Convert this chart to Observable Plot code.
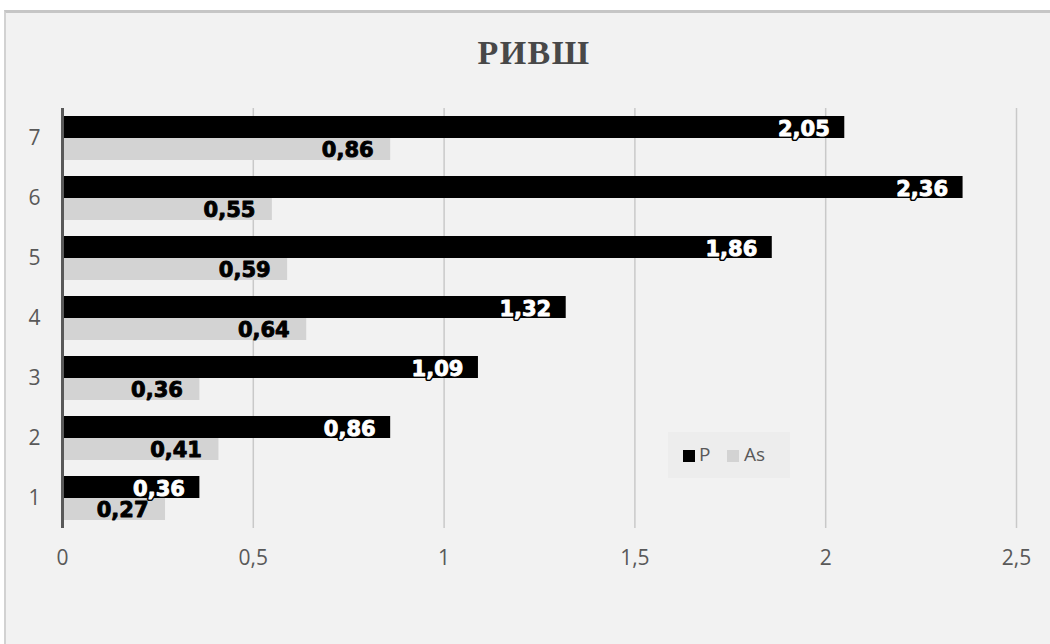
<!DOCTYPE html>
<html>
<head>
<meta charset="utf-8">
<script src="https://cdn.jsdelivr.net/npm/d3@7"></script>
<script src="https://cdn.jsdelivr.net/npm/@observablehq/plot@0.6"></script>
<style>
  html, body { margin: 0; padding: 0; background: #ffffff; width: 1050px; height: 644px; overflow: hidden; }
  #panel { position: absolute; left: 4px; top: 10px; right: 0; bottom: 0; background: #f2f2f2;
           border-top: 3px solid #c6c6c6; border-left: 2px solid #d2d2d2; }
  #title { position: absolute; left: 0; width: 1068px; top: 34px; text-align: center;
           font-family: "Liberation Serif", "DejaVu Serif", serif; font-weight: bold; font-size: 34px;
           letter-spacing: 1.5px; color: #484848; }
  #chart { position: absolute; left: 0; top: 0; }
  #chart g[aria-label="x-axis tick label"], #chart g[aria-label="y-axis tick label"] { font-size: 21px !important; }
  #legend { position: absolute; left: 668px; top: 432px; width: 122px; height: 46px; background: #ededed;
            font-family: "Open Sans", "DejaVu Sans", sans-serif; font-size: 19px; color: #595959; }
  .sw { position: absolute; top: 18px; width: 12px; height: 12px; }
  .lt { position: absolute; top: 9px; }
</style>
</head>
<body>
<div id="panel"></div>
<div id="title">РИВШ</div>
<div id="chart"></div>
<div id="legend">
  <div class="sw" style="left:15px;background:#000;"></div><div class="lt" style="left:31px;">P</div>
  <div class="sw" style="left:59px;background:#d3d3d3;"></div><div class="lt" style="left:76px;">As</div>
</div>
<script>
const categories = ["1", "2", "3", "4", "5", "6", "7"];
const pValues = [0.36, 0.86, 1.09, 1.32, 1.86, 2.36, 2.05];
const asValues = [0.27, 0.41, 0.36, 0.64, 0.59, 0.55, 0.86];
const xTicks = [0, 0.5, 1, 1.5, 2, 2.5];

const pData = categories.map((c, i) => ({cat: c, value: pValues[i]}));
const asData = categories.map((c, i) => ({cat: c, value: asValues[i]}));
const fmt = d => d.toFixed(2).replace(".", ",");
const tickFmt = d => String(d).replace(".", ",");

const labelFont = "'DejaVu Sans', Verdana, sans-serif";
const tickFont = "'Open Sans', 'DejaVu Sans', sans-serif";

const chart = Plot.plot({
  width: 1050,
  height: 644,
  marginLeft: 62,
  marginRight: 34,
  marginTop: 108,
  marginBottom: 116,
  style: {background: "transparent", overflow: "visible", fontSize: "20px", fontFamily: tickFont},
  x: {domain: [0, 2.5], ticks: xTicks, tickFormat: tickFmt, tickSize: 0, tickPadding: 22, label: null},
  y: {domain: categories.slice().reverse(), padding: 0, tickSize: 0, tickPadding: 22, label: null},
  marks: [
    Plot.ruleX(xTicks.filter(d => d > 0), {stroke: "#c9c9c9", strokeWidth: 1.5}),
    Plot.barX(pData, {x: "value", y: "cat", fill: "#000000", insetTop: 8, insetBottom: 30}),
    Plot.barX(asData, {x: "value", y: "cat", fill: "#d3d3d3", insetTop: 30, insetBottom: 8}),
    Plot.ruleX([0], {stroke: "#595959", strokeWidth: 3}),
    Plot.text(pData, {x: "value", y: "cat", text: d => fmt(d.value), dy: -9, dx: -15, textAnchor: "end",
      fill: "#000000", stroke: "#000000", strokeWidth: 4, fontWeight: "bold", fontSize: 21,
      fontFamily: labelFont, letterSpacing: 1}),
    Plot.text(pData, {x: "value", y: "cat", text: d => fmt(d.value), dy: -9, dx: -15, textAnchor: "end",
      fill: "#ffffff", stroke: "#ffffff", strokeWidth: 0.9, fontWeight: "bold", fontSize: 21,
      fontFamily: labelFont, letterSpacing: 1}),
    Plot.text(asData, {x: "value", y: "cat", text: d => fmt(d.value), dy: 12, dx: -17, textAnchor: "end",
      fill: "#000000", stroke: "#000000", strokeWidth: 0.9, fontWeight: "bold", fontSize: 21,
      fontFamily: labelFont, letterSpacing: 1}),
    Plot.axisX({ticks: xTicks, tickFormat: tickFmt, tickSize: 0, tickPadding: 22, label: null,
      fontSize: 21, fill: "#595959", fontFamily: tickFont}),
    Plot.axisY({tickSize: 0, tickPadding: 22, label: null, fontSize: 21, fill: "#595959",
      fontFamily: tickFont})
  ]
});
document.getElementById("chart").appendChild(chart);
</script>
</body>
</html>
